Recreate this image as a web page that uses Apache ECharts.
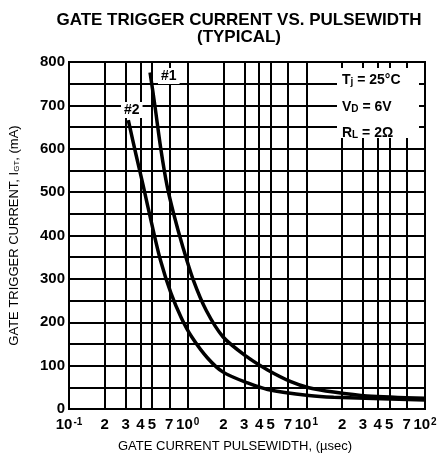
<!DOCTYPE html>
<html>
<head>
<meta charset="utf-8">
<style>
  html, body { margin: 0; padding: 0; background: #fff; }
  #chart { width: 446px; height: 461px; }
</style>
<script src="https://cdn.jsdelivr.net/npm/echarts@6/dist/echarts.min.js"></script>
</head>
<body>
<div id="chart"></div>
<script>
// pulsewidth (usec) vs gate trigger current (mA)
const curve1 = [
  [0.482, 776], [0.529, 700], [0.596, 597], [0.669, 516], [0.759, 452],
  [0.912, 373], [1.116, 297], [1.435, 227], [1.99, 166], [3.17, 120],
  [4.72, 90], [7.4, 63], [10.5, 49], [17, 39], [32.5, 30], [100, 25]
];
const curve2 = [
  [0.316, 666], [0.368, 585], [0.421, 516], [0.496, 429], [0.59, 343],
  [0.723, 267], [0.885, 210], [1.084, 166], [1.477, 117], [1.99, 85],
  [3.2, 60], [4.72, 45], [10.5, 31], [17, 27], [100, 21]
];
// minor vertical grid lines inside each decade and their labels
const minorTicks = [0.2, 0.3, 0.4, 0.5, 0.7, 2, 3, 4, 5, 7, 20, 30, 40, 50, 70];
const minorLabels = ["2", "3", "4", "5", "7", "2", "3", "4", "5", "7", "2", "3", "4", "5", "7"];
const yLabels = [0, 100, 200, 300, 400, 500, 600, 700, 800];

const FONT = "Liberation Sans";
const chart = echarts.init(document.getElementById("chart"));

chart.setOption({
  animation: false,
  backgroundColor: "#fff",
  title: {
    text: "GATE TRIGGER CURRENT VS. PULSEWIDTH\n(TYPICAL)",
    left: 234,
    top: 7,
    textAlign: "center",
    textStyle: {
      fontFamily: FONT,
      fontWeight: "bold",
      fontSize: 17,
      lineHeight: 17,
      color: "#000",
    },
  },
  grid: {
    left: 67,
    right: 21,
    top: 62,
    bottom: 52,
    show: true,
    borderColor: "#000",
    borderWidth: 2,
  },
  xAxis: {
    type: "log",
    logBase: 10,
    min: 0.1,
    max: 100,
    name: "GATE CURRENT PULSEWIDTH, (\u00b5sec)",
    nameLocation: "middle",
    nameGap: 31,
    nameTextStyle: {
      fontFamily: FONT,
      fontSize: 13,
      color: "#000",
      padding: [0, 24, 0, 0],
    },
    axisLine: { lineStyle: { color: "#000", width: 2 } },
    axisTick: { show: false },
    splitLine: { show: true, lineStyle: { color: "#000", width: 2 } },
    axisLabel: {
      margin: 8,
      color: "#000",
      formatter: (v) => {
        const e = Math.round(Math.log10(v));
        return "{b|10}{s|" + e + "}";
      },
      rich: {
        b: { fontFamily: FONT, fontSize: 15, fontWeight: "bold", color: "#000" },
        s: { fontFamily: FONT, fontSize: 10, fontWeight: "bold", color: "#000", verticalAlign: "top", padding: [0, 0, 6, 1] },
      },
    },
  },
  yAxis: {
    type: "value",
    min: 0,
    max: 800,
    interval: 50,
    name: "GATE TRIGGER CURRENT, I{sub|GT}, (mA)",
    nameLocation: "middle",
    nameGap: 48,
    nameTextStyle: {
      fontFamily: FONT,
      fontSize: 13,
      color: "#000",
      rich: {
        sub: { fontFamily: FONT, fontSize: 8, color: "#000", verticalAlign: "bottom" },
      },
    },
    axisLine: { show: true, lineStyle: { color: "#000", width: 2 } },
    axisTick: { show: false },
    splitLine: { show: true, lineStyle: { color: "#000", width: 2 } },
    axisLabel: {
      margin: 4,
      fontFamily: FONT,
      fontSize: 15,
      fontWeight: "bold",
      color: "#000",
      formatter: (v) => (yLabels.indexOf(v) >= 0 ? String(v) : ""),
    },
  },
  series: [
    {
      name: "#1",
      type: "line",
      data: curve1,
      smooth: 0.3,
      symbol: "none",
      z: 5,
      lineStyle: { color: "#000", width: 3.5 },
      markLine: {
        silent: true,
        symbol: "none",
        animation: false,
        lineStyle: { color: "#000", width: 2, type: "solid" },
        label: {
          show: true,
          position: "start",
          distance: 8,
          formatter: (p) => p.name,
          fontFamily: FONT,
          fontSize: 15,
          fontWeight: "bold",
          color: "#000",
        },
        data: minorTicks.map((v, i) => ({ xAxis: v, name: minorLabels[i] })),
      },
    },
    {
      name: "#2",
      type: "line",
      data: curve2,
      smooth: 0.3,
      symbol: "none",
      z: 5,
      lineStyle: { color: "#000", width: 3.5 },
    },
  ],
  graphic: [
    {
      type: "rect",
      z: 100,
      shape: { x: 337, y: 68, width: 82, height: 70 },
      style: { fill: "#fff" },
    },
    {
      type: "text",
      z: 101,
      left: 342,
      top: 73,
      style: {
        text: "T{s|j} = 25\u00b0C",
        fontFamily: FONT,
        fontSize: 14,
        fontWeight: "bold",
        fill: "#000",
        rich: { s: { fontFamily: FONT, fontSize: 10, fontWeight: "bold", fill: "#000", verticalAlign: "bottom" } },
      },
    },
    {
      type: "text",
      z: 101,
      left: 342,
      top: 100,
      style: {
        text: "V{s|D} = 6V",
        fontFamily: FONT,
        fontSize: 14,
        fontWeight: "bold",
        fill: "#000",
        rich: { s: { fontFamily: FONT, fontSize: 10, fontWeight: "bold", fill: "#000", verticalAlign: "bottom" } },
      },
    },
    {
      type: "text",
      z: 101,
      left: 342,
      top: 126,
      style: {
        text: "R{s|L} = 2\u03a9",
        fontFamily: FONT,
        fontSize: 14,
        fontWeight: "bold",
        fill: "#000",
        rich: { s: { fontFamily: FONT, fontSize: 10, fontWeight: "bold", fill: "#000", verticalAlign: "bottom" } },
      },
    },
    {
      type: "text",
      z: 101,
      left: 158,
      top: 68,
      style: {
        text: "#1",
        fontFamily: FONT,
        fontSize: 14,
        fontWeight: "bold",
        fill: "#000",
        backgroundColor: "#fff",
        padding: [1, 3, 1, 3],
      },
    },
    {
      type: "text",
      z: 101,
      left: 121,
      top: 102,
      style: {
        text: "#2",
        fontFamily: FONT,
        fontSize: 14,
        fontWeight: "bold",
        fill: "#000",
        backgroundColor: "#fff",
        padding: [1, 3, 1, 3],
      },
    },
  ],
});
</script>
</body>
</html>
